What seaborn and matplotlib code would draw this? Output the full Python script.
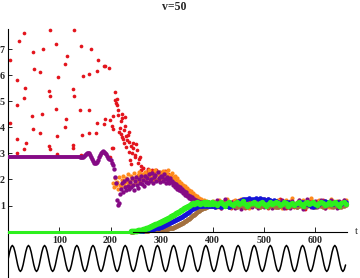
import numpy as np
import matplotlib
matplotlib.use("Agg")
import matplotlib.pyplot as plt
import seaborn as sns

# ---- data ----
title = "v=50"
x_ticks = [100, 200, 300, 400, 500, 600]
y_ticks = [1, 2, 3, 4, 5, 6, 7]

# purple flat start and green zero start (dense points that look like lines)
purple_flat_t = [0, 140]
purple_flat_v = [2.88, 2.88]
green_zero_t = [0, 240]
green_zero_v = [0.0, 0.0]

# purple wiggle, t = 140..198 step 2
purple_wiggle = [2.88, 2.86, 2.85, 2.87, 2.90, 2.94, 2.98, 3.01, 3.02, 3.00,
                 2.94, 2.86, 2.77, 2.69, 2.64, 2.62, 2.63, 2.68, 2.76, 2.86,
                 2.95, 3.02, 3.06, 3.08, 3.06, 3.02, 2.96, 2.90, 2.84, 2.80]

# red scattered points before t=260
red_scatter_t = [4, 30, 20, 82, 129, 48, 67, 94, 142, 161, 114, 176, 187, 190, 197, 110,
                 51, 62, 173, 157, 146, 98, 17, 33, 79, 126, 82, 31, 129, 18, 94, 140,
                 158, 47, 66, 112, 190, 174, 187, 3, 110, 49, 62, 144, 157, 171, 96, 17,
                 34, 79, 81, 31, 127, 126, 18, 96, 158, 143,
                 208, 208, 212, 210, 213, 215, 222, 215, 228, 223, 220, 199, 205, 202,
                 204, 218, 228, 226, 217, 236, 234, 223, 226, 236, 244, 250, 231, 244,
                 251, 236, 257, 256, 202, 238, 199, 205, 247, 253, 241, 259,
                 221, 225, 230, 233, 240, 242, 248]
red_scatter_v = [6.60, 7.62, 7.31, 7.75, 7.72, 6.89, 7.00, 7.21, 7.13, 7.00, 6.75, 6.60,
                 6.37, 6.37, 6.29, 6.41, 6.25, 6.12, 6.16, 6.06, 5.97, 5.93, 5.83, 5.52,
                 5.40, 5.47, 5.22, 5.13, 5.19, 4.84, 4.71, 4.66, 4.66, 4.45, 4.53, 4.30,
                 4.30, 4.18, 4.12, 4.15, 4.02, 3.92, 3.80, 3.69, 3.80, 3.80, 3.67, 3.57,
                 3.38, 3.30, 3.17, 3.15, 3.33, 3.19, 3.00, 2.96, 3.02, 2.93,
                 5.37, 5.05, 5.07, 4.93, 4.85, 4.68, 4.53, 4.46, 4.40, 4.34, 4.25, 4.27,
                 4.42, 4.04, 3.95, 3.99, 4.04, 3.89, 3.82, 3.82, 3.70, 3.61, 3.40, 3.44,
                 3.40, 3.35, 3.25, 3.19, 3.12, 3.06, 2.87, 2.77, 3.22, 2.74, 2.87, 3.19,
                 2.95, 2.65, 2.60, 2.50,
                 3.75, 3.55, 3.65, 3.50, 3.30, 3.00, 2.85]

# purple, t = 200..398 step 2
purple_cloud = [2.74, 2.62, 2.55, 2.40, 2.10, 1.85, 1.20, 1.02, 1.10, 1.45,
                1.62, 1.85, 1.50, 1.95, 1.70, 1.58, 2.02, 1.75, 1.63, 1.90,
                1.72, 2.05, 1.80, 1.60, 1.95, 2.10, 1.78, 1.68, 2.00, 1.85,
                2.12, 1.82, 1.98, 1.75, 2.15, 1.90, 2.05, 1.85, 2.20, 1.95,
                2.02, 2.25, 1.88, 2.10, 2.18, 1.95, 2.30, 2.05, 1.92, 2.15,
                2.08, 1.95, 2.20, 2.02, 1.88, 2.10, 1.98, 1.85, 2.05, 1.90,
                1.95, 1.78, 1.88, 1.70, 1.82, 1.65, 1.75, 1.60, 1.72, 1.55,
                1.62, 1.48, 1.55, 1.40, 1.50, 1.35, 1.42, 1.30, 1.38, 1.25,
                1.32, 1.20, 1.26, 1.15, 1.22, 1.12, 1.18, 1.10, 1.15, 1.08,
                1.12, 1.05, 1.10, 1.02, 1.08, 1.14, 1.04, 1.09, 1.00, 1.06]

# orange, t = 204..398 step 2
orange_cloud = [1.85, 1.70, 2.05, 1.78, 1.92, 1.65, 2.10, 1.80, 1.72, 1.98,
                2.15, 1.85, 1.75, 2.05, 1.90, 2.20, 1.82, 1.95, 2.12, 1.78,
                2.02, 2.25, 1.88, 2.10, 1.95, 2.18, 2.30, 1.92, 2.08, 2.22,
                1.98, 2.15, 2.28, 2.05, 1.92, 2.20, 2.35, 2.08, 2.18, 1.95,
                2.25, 2.12, 2.38, 2.02, 2.20, 2.30, 2.10, 2.25, 2.05, 2.32,
                2.15, 2.28, 2.08, 2.22, 2.35, 2.12, 2.18, 2.02, 2.25, 2.10,
                1.98, 2.15, 1.90, 2.05, 1.85, 1.95, 1.78, 1.88, 1.72, 1.80,
                1.65, 1.75, 1.58, 1.68, 1.52, 1.60, 1.45, 1.55, 1.40, 1.48,
                1.35, 1.42, 1.30, 1.36, 1.25, 1.30, 1.20, 1.25, 1.15, 1.20,
                1.10, 1.16, 1.08, 1.12, 1.05, 1.10, 1.03, 1.08]

# red, t = 260..398 step 2
red_cloud = [2.35, 2.10, 2.45, 2.20, 2.00, 2.30, 2.15, 2.40, 2.05, 2.25,
             2.18, 2.38, 2.02, 2.28, 2.12, 2.35, 2.22, 1.98, 2.30, 2.15,
             2.25, 2.05, 2.18, 2.32, 2.00, 2.12, 2.22, 1.95, 2.08, 2.15,
             1.92, 2.05, 1.85, 1.98, 1.78, 1.90, 1.72, 1.82, 1.65, 1.75,
             1.58, 1.68, 1.50, 1.60, 1.45, 1.52, 1.38, 1.46, 1.32, 1.40,
             1.28, 1.35, 1.22, 1.30, 1.18, 1.24, 1.14, 1.20, 1.10, 1.16,
             1.08, 1.13, 1.05, 1.10, 1.02, 1.07, 1.12, 1.04, 1.09, 1.01]

# rising series, t = 240..398 step 2
green_rise = [0.02, 0.02, 0.02, 0.03, 0.03, 0.04, 0.04, 0.05, 0.05, 0.06,
              0.07, 0.08, 0.09, 0.10, 0.11, 0.12, 0.14, 0.15, 0.17, 0.18,
              0.20, 0.22, 0.24, 0.26, 0.28, 0.30, 0.32, 0.34, 0.36, 0.38,
              0.40, 0.42, 0.44, 0.46, 0.47, 0.49, 0.52, 0.54, 0.56, 0.58,
              0.60, 0.62, 0.65, 0.67, 0.70, 0.72, 0.74, 0.77, 0.79, 0.82,
              0.84, 0.86, 0.89, 0.91, 0.94, 0.96, 0.98, 1.00, 1.02, 1.04,
              1.06, 1.08, 1.07, 1.10, 1.08, 1.12, 1.09, 1.11, 1.07, 1.10,
              1.08, 1.12, 1.06, 1.10, 1.13, 1.07, 1.11, 1.05, 1.09, 1.12]
blue_rise = [0.01, 0.01, 0.01, 0.01, 0.02, 0.02, 0.02, 0.02, 0.03, 0.03,
             0.03, 0.04, 0.04, 0.05, 0.05, 0.06, 0.06, 0.07, 0.07, 0.08,
             0.08, 0.09, 0.10, 0.11, 0.12, 0.13, 0.14, 0.15, 0.16, 0.17,
             0.18, 0.20, 0.22, 0.24, 0.26, 0.28, 0.30, 0.32, 0.34, 0.36,
             0.37, 0.39, 0.41, 0.43, 0.45, 0.47, 0.49, 0.51, 0.53, 0.55,
             0.56, 0.59, 0.62, 0.65, 0.68, 0.70, 0.73, 0.76, 0.80, 0.83,
             0.86, 0.88, 0.90, 0.92, 0.94, 0.96, 0.97, 0.98, 0.99, 1.00,
             1.00, 0.98, 1.01, 0.99, 1.02, 0.97, 1.00, 0.98, 1.01, 0.99]
brown_rise = [0.00, 0.00, 0.00, 0.01, 0.01, 0.01, 0.01, 0.01, 0.02, 0.02,
              0.02, 0.02, 0.03, 0.03, 0.03, 0.04, 0.04, 0.04, 0.05, 0.05,
              0.05, 0.06, 0.06, 0.06, 0.07, 0.07, 0.07, 0.08, 0.08, 0.08,
              0.08, 0.09, 0.09, 0.10, 0.10, 0.10, 0.11, 0.12, 0.12, 0.13,
              0.13, 0.15, 0.17, 0.19, 0.20, 0.22, 0.24, 0.26, 0.28, 0.30,
              0.32, 0.34, 0.37, 0.39, 0.42, 0.44, 0.47, 0.50, 0.52, 0.55,
              0.58, 0.62, 0.65, 0.68, 0.72, 0.75, 0.78, 0.80, 0.83, 0.86,
              0.88, 0.90, 0.92, 0.94, 0.96, 0.97, 0.98, 0.99, 1.00, 0.99]

# all six series, t = 400..660 step 4
purple_tail = [1.15, 0.98, 1.22, 1.05, 0.92, 1.10, 1.25, 1.00, 0.95, 1.12,
               1.05, 0.90, 1.18, 1.08, 0.88, 1.02, 1.20, 0.97, 1.10, 0.93,
               1.15, 1.03, 0.91, 1.21, 1.06, 0.96, 1.12, 1.24, 1.00, 0.89,
               1.08, 1.18, 0.95, 1.04, 1.22, 0.92, 1.10, 1.01, 0.90, 1.16,
               1.06, 0.94, 1.20, 1.09, 0.87, 1.03, 1.25, 1.12, 0.96, 1.05,
               1.18, 0.93, 1.07, 1.21, 0.99, 0.90, 1.14, 1.04, 1.23, 0.97,
               1.09, 0.92, 1.17, 1.02, 1.20, 1.06]
orange_tail = [1.18, 1.02, 0.95, 1.22, 1.10, 0.98, 1.15, 1.26, 1.04, 0.93,
               1.12, 1.20, 0.99, 1.08, 1.24, 0.96, 1.05, 1.17, 0.91, 1.10,
               1.21, 1.00, 1.13, 0.94, 1.07, 1.25, 1.02, 0.97, 1.19, 1.08,
               0.95, 1.16, 1.23, 1.03, 0.92, 1.11, 1.20, 0.99, 1.14, 1.27,
               1.04, 0.96, 1.18, 1.09, 1.22, 0.97, 1.06, 1.15, 1.28, 1.01,
               0.94, 1.13, 1.21, 1.05, 0.98, 1.17, 1.08, 0.93, 1.24, 1.11,
               1.02, 1.19, 0.96, 1.14, 1.07, 1.22]
red_tail = [1.10, 0.94, 1.19, 1.03, 0.90, 1.14, 1.22, 0.99, 1.07, 0.92,
            1.16, 1.05, 0.95, 1.20, 1.01, 1.12, 0.89, 1.08, 1.23, 0.97,
            1.04, 1.18, 0.93, 1.11, 1.00, 1.21, 1.06, 0.91, 1.15, 1.02,
            1.19, 0.96, 1.08, 1.24, 0.98, 1.13, 0.90, 1.05, 1.17, 1.00,
            0.93, 1.12, 1.20, 0.99, 1.07, 0.88, 1.16, 1.04, 1.22, 0.95,
            1.09, 1.18, 0.97, 1.03, 1.21, 0.92, 1.11, 1.06, 0.94, 1.19,
            1.01, 1.14, 0.96, 1.09, 1.23, 1.04]
brown_tail = [1.00, 0.97, 1.02, 0.99, 0.96, 1.01, 1.04, 0.98, 0.95, 1.00,
              1.02, 0.98, 0.94, 0.99, 1.03, 1.00, 0.96, 0.93, 0.98, 1.01,
              1.04, 1.00, 0.97, 0.94, 0.99, 1.02, 0.98, 0.95, 1.00, 1.03,
              0.99, 0.96, 0.93, 0.97, 1.01, 1.04, 1.00, 0.96, 0.99, 1.02,
              0.98, 0.95, 1.00, 1.03, 0.99, 0.95, 0.97, 1.01, 1.04, 1.00,
              0.96, 0.99, 1.02, 0.98, 0.94, 0.97, 1.01, 1.03, 0.99, 0.96,
              1.00, 1.03, 0.99, 0.95, 0.98, 1.01]
blue_tail = [0.97, 0.95, 0.98, 1.00, 0.96, 0.99, 1.02, 0.98, 0.95, 1.00,
             1.03, 1.08, 1.12, 1.17, 1.21, 1.24, 1.26, 1.25, 1.27, 1.24,
             1.26, 1.28, 1.25, 1.27, 1.24, 1.26, 1.22, 1.25, 1.21, 1.18,
             1.20, 1.16, 1.12, 1.08, 1.05, 1.10, 1.14, 1.12, 1.09, 1.06,
             1.02, 1.05, 1.08, 1.12, 1.15, 1.11, 1.07, 1.03, 0.98, 0.95,
             0.97, 1.01, 1.05, 1.09, 1.13, 1.16, 1.12, 1.08, 1.04, 1.07,
             1.11, 1.14, 1.10, 1.06, 1.09, 1.12]
green_tail = [1.04, 1.11, 1.02, 1.09, 1.15, 1.06, 0.99, 1.08, 1.13, 1.05,
              1.01, 1.10, 1.14, 1.04, 1.08, 1.16, 1.06, 0.99, 1.05, 1.11,
              1.14, 1.07, 1.02, 1.09, 1.13, 1.05, 0.98, 1.07, 1.12, 1.04,
              1.09, 1.15, 1.10, 1.02, 1.06, 1.13, 1.08, 1.00, 1.05, 1.11,
              1.03, 1.09, 1.14, 1.06, 0.99, 1.08, 1.12, 1.04, 1.09, 1.13,
              1.05, 1.01, 1.08, 1.14, 1.09, 1.02, 1.06, 1.12, 1.04, 1.10,
              1.13, 1.05, 1.00, 1.08, 1.12, 1.06]

# forcing curve below the axis, 12 samples per period, t = 0..660
sine_v = [
    -1.03, -0.78, -0.60, -0.53, -0.60, -0.78, -1.03, -1.28, -1.46, -1.53, -1.46, -1.28,
    -1.03, -0.78, -0.60, -0.53, -0.60, -0.78, -1.03, -1.28, -1.46, -1.53, -1.46, -1.28,
    -1.03, -0.78, -0.60, -0.53, -0.60, -0.78, -1.03, -1.28, -1.46, -1.53, -1.46, -1.28,
    -1.03, -0.78, -0.60, -0.53, -0.60, -0.78, -1.03, -1.28, -1.46, -1.53, -1.46, -1.28,
    -1.03, -0.78, -0.60, -0.53, -0.60, -0.78, -1.03, -1.28, -1.46, -1.53, -1.46, -1.28,
    -1.03, -0.78, -0.60, -0.53, -0.60, -0.78, -1.03, -1.28, -1.46, -1.53, -1.46, -1.28,
    -1.03, -0.78, -0.60, -0.53, -0.60, -0.78, -1.03, -1.28, -1.46, -1.53, -1.46, -1.28,
    -1.03, -0.78, -0.60, -0.53, -0.60, -0.78, -1.03, -1.28, -1.46, -1.53, -1.46, -1.28,
    -1.03, -0.78, -0.60, -0.53, -0.60, -0.78, -1.03, -1.28, -1.46, -1.53, -1.46, -1.28,
    -1.03, -0.78, -0.60, -0.53, -0.60, -0.78, -1.03, -1.28, -1.46, -1.53, -1.46, -1.28,
    -1.03, -0.78, -0.60, -0.53, -0.60, -0.78, -1.03, -1.28, -1.46, -1.53, -1.46, -1.28,
    -1.03, -0.78, -0.60, -0.53, -0.60, -0.78, -1.03, -1.28, -1.46, -1.53, -1.46, -1.28,
    -1.03, -0.78, -0.60, -0.53, -0.60, -0.78, -1.03, -1.28, -1.46, -1.53, -1.46, -1.28,
    -1.03, -0.78, -0.60, -0.53, -0.60, -0.78, -1.03, -1.28, -1.46, -1.53, -1.46, -1.28,
    -1.03, -0.78, -0.60, -0.53, -0.60, -0.78, -1.03, -1.28, -1.46, -1.53, -1.46, -1.28,
    -1.03, -0.78, -0.60, -0.53, -0.60, -0.78, -1.03, -1.28, -1.46, -1.53, -1.46, -1.28,
    -1.03, -0.78, -0.60, -0.53, -0.60, -0.78, -1.03, -1.28, -1.46, -1.53, -1.46, -1.28,
    -1.03, -0.78, -0.60, -0.53, -0.60, -0.78, -1.03, -1.28, -1.46, -1.53, -1.46, -1.28,
    -1.03, -0.78, -0.60, -0.53, -0.60, -0.78, -1.03, -1.28, -1.46, -1.53, -1.46, -1.28,
    -1.03, -0.78, -0.60, -0.53, -0.60, -0.78, -1.03, -1.28, -1.46, -1.53, -1.46, -1.28,
    -1.03, -0.78, -0.60, -0.53, -0.60, -0.78, -1.03, -1.28, -1.46, -1.53, -1.46, -1.28,
]

# sample times for the lists above
t_wiggle = np.arange(140, 200, 2)
t_cloud = np.arange(200, 400, 2)
t_orange = np.arange(204, 400, 2)
t_red = np.arange(260, 400, 2)
t_rise = np.arange(240, 400, 2)
t_tail = np.arange(400, 664, 4)
t_sine = np.linspace(0, 660, len(sine_v))

RED = "#e3141c"
PURPLE = "#850a85"
ORANGE = "#ff8a1c"
GREEN = "#2df01e"
BLUE = "#1414d8"
BROWN = "#a3703f"

sns.set_style("white")
plt.rcParams["font.family"] = ["Liberation Serif", "DejaVu Serif"]

fig = plt.figure(figsize=(3.6, 2.78), dpi=100)
ax = fig.add_axes([8.3 / 360, 0.0, 338.8 / 360, 248.7 / 278])
ax.set_facecolor("white")

pts = dict(linewidth=0, ax=ax, legend=False, clip_on=False)

# red first, it sits behind everything
sns.scatterplot(x=red_scatter_t, y=red_scatter_v, color=RED, s=7, **pts)
sns.scatterplot(x=t_red, y=red_cloud, color=RED, s=8, **pts)
sns.scatterplot(x=t_tail, y=red_tail, color=RED, s=8, **pts)

sns.scatterplot(x=t_orange, y=orange_cloud, color=ORANGE, s=9, **pts)
sns.scatterplot(x=t_tail, y=orange_tail, color=ORANGE, s=9, **pts)

sns.lineplot(x=purple_flat_t, y=purple_flat_v, color=PURPLE, lw=2.8, ax=ax)
sns.scatterplot(x=t_wiggle, y=purple_wiggle, color=PURPLE, s=10, **pts)
sns.scatterplot(x=t_cloud, y=purple_cloud, color=PURPLE, s=10, **pts)
sns.scatterplot(x=t_tail, y=purple_tail, color=PURPLE, s=9, **pts)

sns.scatterplot(x=t_rise, y=brown_rise, color=BROWN, s=11, **pts)
sns.scatterplot(x=t_tail, y=brown_tail, color=BROWN, s=11, **pts)
sns.scatterplot(x=t_rise, y=blue_rise, color=BLUE, s=11, **pts)
sns.scatterplot(x=t_tail, y=blue_tail, color=BLUE, s=11, **pts)

sns.lineplot(x=green_zero_t, y=green_zero_v, color=GREEN, lw=2.2, ax=ax, zorder=4)
sns.scatterplot(x=t_rise, y=green_rise, color=GREEN, s=16, **pts)
sns.scatterplot(x=t_tail, y=green_tail, color=GREEN, s=15, **pts)

sns.lineplot(x=t_sine, y=sine_v, color="black", lw=1.1, ax=ax)

ax.set_xlim(0, 663)
ax.set_ylim(-1.78, 7.76)

# axes in the middle, Mathematica style
ax.spines["top"].set_visible(False)
ax.spines["right"].set_visible(False)
ax.spines["bottom"].set_position(("data", 0))
for s in ("left", "bottom"):
    ax.spines[s].set_linewidth(0.8)
    ax.spines[s].set_color("black")
    ax.spines[s].set_zorder(1)

ax.set_xticks(x_ticks)
ax.set_yticks(y_ticks)
ax.set_xticklabels([str(v) for v in x_ticks], fontweight="bold")
ax.set_yticklabels([str(v) for v in y_ticks], fontweight="bold")
ax.tick_params(axis="x", direction="in", length=3.5, width=0.7, pad=3.5,
               labelsize=7.2, bottom=True)
ax.tick_params(axis="y", direction="in", length=3, width=0.7, pad=2.5,
               labelsize=7.2, left=True)
ax.set_xlabel("")
ax.set_ylabel("")

ax.annotate("t", xy=(1, 0), xycoords=("axes fraction", "data"),
            xytext=(5.5, 0), textcoords="offset points",
            ha="left", va="center", fontsize=8)

fig.text(174 / 360, 1 - 7 / 278, title, ha="center", va="center",
         fontsize=8.5, fontweight="bold")

fig.savefig("out.png", dpi=100)
